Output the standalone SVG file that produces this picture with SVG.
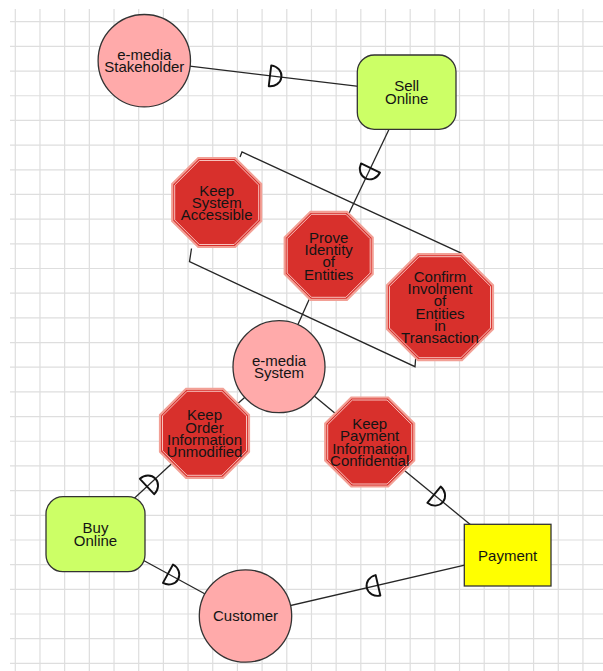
<svg xmlns="http://www.w3.org/2000/svg" width="603" height="671" viewBox="0 0 603 671">
<style>
.grid{stroke:#dedede;stroke-width:1.2;fill:none}
.conn{stroke:#262626;stroke-width:1.3;fill:none}
.dep{stroke:#111;stroke-width:1.9;fill:none;stroke-linejoin:round}
.actor{fill:#ffaaaa;stroke:#333;stroke-width:1.3}
.goal{fill:#ccff66;stroke:#333;stroke-width:1.3}
.res{fill:#ffff00;stroke:#333;stroke-width:1.3}
.oct{fill:#d8302c;stroke:#f2a096;stroke-width:2.2}
.octin{fill:none;stroke:#fbd3ce;stroke-width:0.9}
text{font-family:"Liberation Sans",Arial,sans-serif;font-size:15px;fill:#141414;text-anchor:middle}
</style>
<defs>
<path id="D" d="M0,-10.5 A11.5,10.5 0 0 1 0,10.5 Z"/>
</defs>
<rect width="603" height="671" fill="#fff"/>
<path class="grid" d="M15.3,9V671M39.98,9V671M64.66,9V671M89.34,9V671M114.02,9V671M138.7,9V671M163.38,9V671M188.06,9V671M212.74,9V671M237.42,9V671M262.1,9V671M286.78,9V671M311.46,9V671M336.14,9V671M360.82,9V671M385.5,9V671M410.18,9V671M434.86,9V671M459.54,9V671M484.22,9V671M508.9,9V671M533.58,9V671M558.26,9V671M582.94,9V671
M10,21.7H603M10,46.38H603M10,71.06H603M10,95.74H603M10,120.42H603M10,145.1H603M10,169.78H603M10,194.46H603M10,219.14H603M10,243.82H603M10,268.5H603M10,293.18H603M10,317.86H603M10,342.54H603M10,367.22H603M10,391.9H603M10,416.58H603M10,441.26H603M10,465.94H603M10,490.62H603M10,515.3H603M10,539.98H603M10,564.66H603M10,589.34H603M10,614.02H603M10,638.7H603M10,663.38H603"/>
<g id="connectors">
<line class="conn" x1="144.3" y1="60.7" x2="406.7" y2="92.2"/>
<line class="conn" x1="406.7" y1="92.2" x2="328.7" y2="255.8"/>
<line class="conn" x1="328.7" y1="255.8" x2="279" y2="366.7"/>
<line class="conn" x1="279" y1="366.7" x2="204.5" y2="433.3"/>
<line class="conn" x1="279" y1="366.7" x2="369.7" y2="442"/>
<line class="conn" x1="204.5" y1="433.3" x2="95.5" y2="534.2"/>
<line class="conn" x1="95.5" y1="534.2" x2="245.5" y2="616"/>
<line class="conn" x1="245.5" y1="616" x2="507.7" y2="555.2"/>
<line class="conn" x1="369.7" y1="442" x2="507.7" y2="555.2"/>
<polyline class="conn" points="240,157 242,152 461.7,253.3 457,263"/>
<polyline class="conn" points="191.5,248.5 189.5,261.7 415,366.7 415.7,358"/>
<use href="#D" class="dep" transform="translate(270,75.8) rotate(6.85)"/>
<use href="#D" class="dep" transform="translate(370.5,168) rotate(115.5)"/>
<use href="#D" class="dep" transform="translate(147,486.5) rotate(-42.8)"/>
<use href="#D" class="dep" transform="translate(168,573.7) rotate(28.6)"/>
<use href="#D" class="dep" transform="translate(378,585.3) rotate(166.9)"/>
<use href="#D" class="dep" transform="translate(434,494.7) rotate(39.4)"/>
</g>
<g id="stakeholder">
<circle class="actor" cx="144.3" cy="60.7" r="46.2"/>
<text><tspan x="144.3" y="59.95">e-media</tspan><tspan x="144.3" y="72.25">Stakeholder</tspan></text>
</g>
<g id="sell-online">
<rect class="goal" x="357.3" y="55" width="98.7" height="74.3" rx="17"/>
<text><tspan x="406.7" y="91.45">Sell</tspan><tspan x="406.7" y="103.75">Online</tspan></text>
</g>
<g id="keep-system-accessible">
<polygon class="oct" points="198.27,158 235.13,158 261.2,183.93 261.2,221.07 235.13,247 198.27,247 172.2,221.07 172.2,183.93"/>
<polygon class="octin" points="199.3,160.5 234.1,160.5 258.7,185.1 258.7,219.9 234.1,244.5 199.3,244.5 174.7,219.9 174.7,185.1"/>
<text><tspan x="216.7" y="195.6">Keep</tspan><tspan x="216.7" y="207.9">System</tspan><tspan x="216.7" y="220.2">Accessible</tspan></text>
</g>
<g id="prove-identity">
<polygon class="oct" points="310.48,211.8 346.92,211.8 372.7,237.58 372.7,274.02 346.92,299.8 310.48,299.8 284.7,274.02 284.7,237.58"/>
<polygon class="octin" points="311.51,214.3 345.89,214.3 370.2,238.61 370.2,272.99 345.89,297.3 311.51,297.3 287.2,272.99 287.2,238.61"/>
<text><tspan x="328.7" y="242.75">Prove</tspan><tspan x="328.7" y="255.05">Identity</tspan><tspan x="328.7" y="267.35">of</tspan><tspan x="328.7" y="279.65">Entities</tspan></text>
</g>
<g id="confirm-involment">
<polygon class="oct" points="418.05,254.2 461.95,254.2 493,285.25 493,329.15 461.95,360.2 418.05,360.2 387,329.15 387,285.25"/>
<polygon class="octin" points="419.08,256.7 460.92,256.7 490.5,286.28 490.5,328.12 460.92,357.7 419.08,357.7 389.5,328.12 389.5,286.28"/>
<text><tspan x="440" y="281.85">Confirm</tspan><tspan x="440" y="294.15">Involment</tspan><tspan x="440" y="306.45">of</tspan><tspan x="440" y="318.75">Entities</tspan><tspan x="440" y="331.05">in</tspan><tspan x="440" y="343.35">Transaction</tspan></text>
</g>
<g id="emedia-system">
<circle class="actor" cx="279" cy="366.7" r="46"/>
<text><tspan x="279" y="365.95">e-media</tspan><tspan x="279" y="378.25">System</tspan></text>
</g>
<g id="keep-order">
<polygon class="oct" points="186.07,388.8 222.93,388.8 249,414.87 249,451.73 222.93,477.8 186.07,477.8 160,451.73 160,414.87"/>
<polygon class="octin" points="187.1,391.3 221.9,391.3 246.5,415.9 246.5,450.7 221.9,475.3 187.1,475.3 162.5,450.7 162.5,415.9"/>
<text><tspan x="204.5" y="420.25">Keep</tspan><tspan x="204.5" y="432.55">Order</tspan><tspan x="204.5" y="444.85">Information</tspan><tspan x="204.5" y="457.15">Unmodified</tspan></text>
</g>
<g id="keep-payment">
<polygon class="oct" points="351.27,397.5 388.13,397.5 414.2,423.57 414.2,460.43 388.13,486.5 351.27,486.5 325.2,460.43 325.2,423.57"/>
<polygon class="octin" points="352.3,400 387.1,400 411.7,424.6 411.7,459.4 387.1,484 352.3,484 327.7,459.4 327.7,424.6"/>
<text><tspan x="369.7" y="428.95">Keep</tspan><tspan x="369.7" y="441.25">Payment</tspan><tspan x="369.7" y="453.55">Information</tspan><tspan x="369.7" y="465.85">Confidential</tspan></text>
</g>
<g id="buy-online">
<rect class="goal" x="46" y="496.7" width="99" height="75" rx="17"/>
<text><tspan x="95.5" y="533.45">Buy</tspan><tspan x="95.5" y="545.75">Online</tspan></text>
</g>
<g id="customer">
<circle class="actor" cx="245.5" cy="616" r="46.2"/>
<text x="245.5" y="621.4">Customer</text>
</g>
<g id="payment">
<rect class="res" x="464.3" y="524.3" width="86.7" height="61.7"/>
<text x="507.7" y="560.6">Payment</text>
</g>
</svg>
